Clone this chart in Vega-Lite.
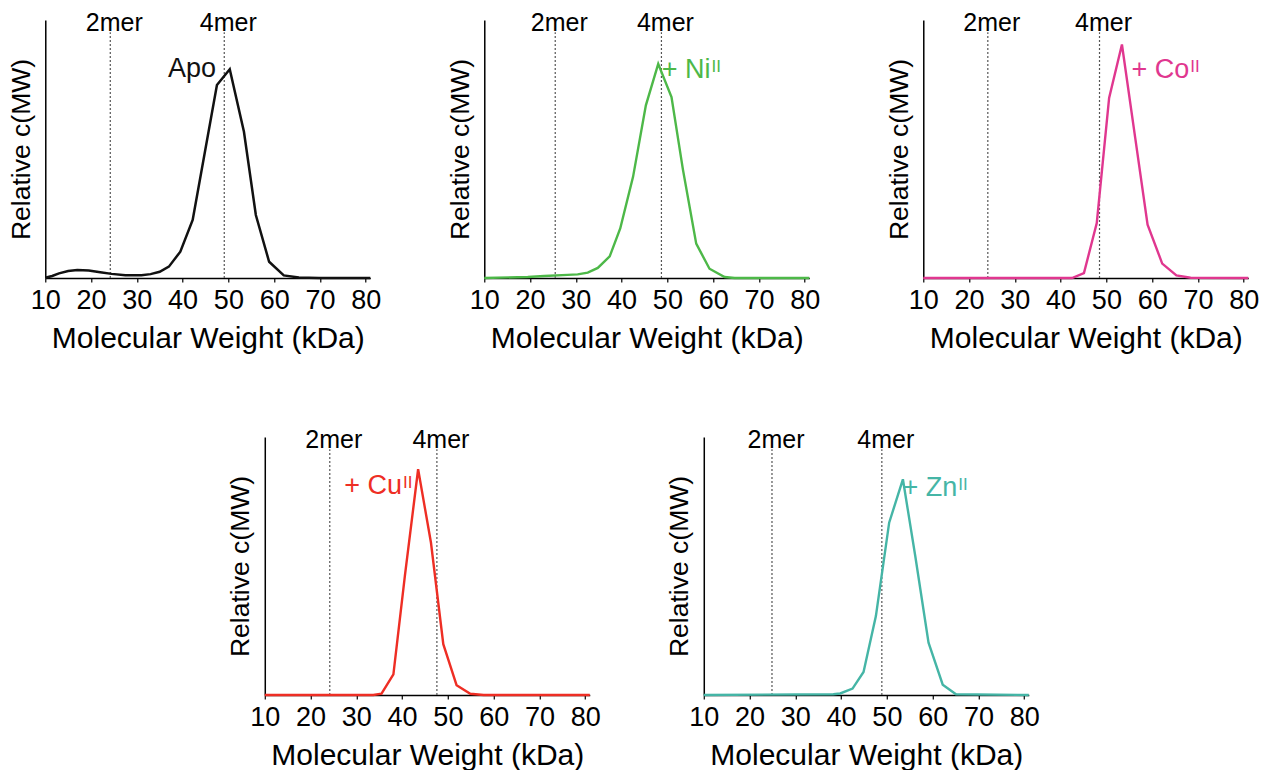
{
  "$schema": "https://vega.github.io/schema/vega-lite/v6.json",
  "padding": {"left": 8, "top": 10, "right": 4, "bottom": 0},
  "background": "white",
  "config": {
    "view": {"stroke": null},
    "font": "Liberation Sans",
    "axis": {"grid": false, "domainColor": "black", "domainWidth": 1.5, "titleFontWeight": "normal", "titleColor": "black", "labelColor": "black", "titleFont": "Liberation Sans", "labelFont": "Liberation Sans"},
    "axisX": {"tickSize": 4, "tickColor": "black", "tickWidth": 1.2, "labelFontSize": 27, "labelPadding": 5, "titleFontSize": 30, "titlePadding": 10, "labelFlush": false, "labelOverlap": false},
    "axisY": {"labels": false, "ticks": false, "titleFontSize": 26.5, "titlePadding": 10},
    "text": {"font": "Liberation Sans"}
  },
  "datasets": {
    "curves": [
      {"panel": "Apo", "mw": 10.0, "c": 0.001},
      {"panel": "Apo", "mw": 11.5, "c": 0.008},
      {"panel": "Apo", "mw": 13.0, "c": 0.018},
      {"panel": "Apo", "mw": 15.0, "c": 0.027},
      {"panel": "Apo", "mw": 17.0, "c": 0.031},
      {"panel": "Apo", "mw": 19.5, "c": 0.029},
      {"panel": "Apo", "mw": 22.0, "c": 0.022},
      {"panel": "Apo", "mw": 24.5, "c": 0.016},
      {"panel": "Apo", "mw": 27.5, "c": 0.011},
      {"panel": "Apo", "mw": 31.0, "c": 0.011},
      {"panel": "Apo", "mw": 33.0, "c": 0.015},
      {"panel": "Apo", "mw": 35.0, "c": 0.024},
      {"panel": "Apo", "mw": 37.0, "c": 0.044},
      {"panel": "Apo", "mw": 39.5, "c": 0.102},
      {"panel": "Apo", "mw": 42.2, "c": 0.225},
      {"panel": "Apo", "mw": 47.5, "c": 0.748},
      {"panel": "Apo", "mw": 50.3, "c": 0.809},
      {"panel": "Apo", "mw": 53.4, "c": 0.567},
      {"panel": "Apo", "mw": 56.0, "c": 0.244},
      {"panel": "Apo", "mw": 58.9, "c": 0.063},
      {"panel": "Apo", "mw": 62.1, "c": 0.010},
      {"panel": "Apo", "mw": 65.4, "c": 0.002},
      {"panel": "Apo", "mw": 69.8, "c": 0.0},
      {"panel": "Apo", "mw": 81.0, "c": 0.0},
      {"panel": "Ni", "mw": 10.0, "c": 0.0},
      {"panel": "Ni", "mw": 19.5, "c": 0.004},
      {"panel": "Ni", "mw": 23.1, "c": 0.008},
      {"panel": "Ni", "mw": 28.2, "c": 0.012},
      {"panel": "Ni", "mw": 30.4, "c": 0.014},
      {"panel": "Ni", "mw": 32.6, "c": 0.021},
      {"panel": "Ni", "mw": 34.8, "c": 0.039},
      {"panel": "Ni", "mw": 37.4, "c": 0.084},
      {"panel": "Ni", "mw": 39.7, "c": 0.192},
      {"panel": "Ni", "mw": 42.5, "c": 0.392},
      {"panel": "Ni", "mw": 45.3, "c": 0.669},
      {"panel": "Ni", "mw": 48.0, "c": 0.830},
      {"panel": "Ni", "mw": 50.9, "c": 0.701},
      {"panel": "Ni", "mw": 53.4, "c": 0.420},
      {"panel": "Ni", "mw": 56.3, "c": 0.133},
      {"panel": "Ni", "mw": 59.2, "c": 0.036},
      {"panel": "Ni", "mw": 62.5, "c": 0.004},
      {"panel": "Ni", "mw": 64.7, "c": 0.0},
      {"panel": "Ni", "mw": 81.0, "c": 0.0},
      {"panel": "Co", "mw": 10.0, "c": 0.0},
      {"panel": "Co", "mw": 42.5, "c": 0.0},
      {"panel": "Co", "mw": 45.1, "c": 0.019},
      {"panel": "Co", "mw": 47.9, "c": 0.213},
      {"panel": "Co", "mw": 50.6, "c": 0.698},
      {"panel": "Co", "mw": 53.4, "c": 0.905},
      {"panel": "Co", "mw": 56.3, "c": 0.543},
      {"panel": "Co", "mw": 59.0, "c": 0.207},
      {"panel": "Co", "mw": 62.2, "c": 0.056},
      {"panel": "Co", "mw": 65.3, "c": 0.010},
      {"panel": "Co", "mw": 68.4, "c": 0.001},
      {"panel": "Co", "mw": 81.0, "c": 0.0},
      {"panel": "Cu", "mw": 10.0, "c": 0.0},
      {"panel": "Cu", "mw": 33.7, "c": 0.0},
      {"panel": "Cu", "mw": 35.5, "c": 0.005},
      {"panel": "Cu", "mw": 38.1, "c": 0.080},
      {"panel": "Cu", "mw": 40.6, "c": 0.461},
      {"panel": "Cu", "mw": 43.5, "c": 0.875},
      {"panel": "Cu", "mw": 46.3, "c": 0.591},
      {"panel": "Cu", "mw": 49.0, "c": 0.197},
      {"panel": "Cu", "mw": 51.9, "c": 0.038},
      {"panel": "Cu", "mw": 54.9, "c": 0.005},
      {"panel": "Cu", "mw": 57.8, "c": 0.0},
      {"panel": "Cu", "mw": 81.0, "c": 0.0},
      {"panel": "Zn", "mw": 10.0, "c": 0.0},
      {"panel": "Zn", "mw": 38.3, "c": 0.003},
      {"panel": "Zn", "mw": 39.8, "c": 0.006},
      {"panel": "Zn", "mw": 42.5, "c": 0.025},
      {"panel": "Zn", "mw": 44.9, "c": 0.089},
      {"panel": "Zn", "mw": 47.6, "c": 0.306},
      {"panel": "Zn", "mw": 50.5, "c": 0.668},
      {"panel": "Zn", "mw": 53.5, "c": 0.836},
      {"panel": "Zn", "mw": 56.2, "c": 0.539},
      {"panel": "Zn", "mw": 59.1, "c": 0.203},
      {"panel": "Zn", "mw": 62.2, "c": 0.040},
      {"panel": "Zn", "mw": 65.1, "c": 0.003},
      {"panel": "Zn", "mw": 81.0, "c": 0.0}
    ],
    "markers": [
      {"panel": "Apo", "mw": 24.2, "label": "2mer"},
      {"panel": "Apo", "mw": 49.1, "label": "4mer"},
      {"panel": "Ni", "mw": 25.5, "label": "2mer"},
      {"panel": "Ni", "mw": 48.7, "label": "4mer"},
      {"panel": "Co", "mw": 24.1, "label": "2mer"},
      {"panel": "Co", "mw": 48.5, "label": "4mer"},
      {"panel": "Cu", "mw": 24.2, "label": "2mer"},
      {"panel": "Cu", "mw": 47.6, "label": "4mer"},
      {"panel": "Zn", "mw": 24.9, "label": "2mer"},
      {"panel": "Zn", "mw": 48.9, "label": "4mer"}
    ],
    "labels": [
      {"panel": "Apo", "mw": 47.3, "c": 0.81, "text": "Apo", "sup": ""},
      {"panel": "Ni", "mw": 59.4, "c": 0.805, "text": "+ Ni", "sup": "II"},
      {"panel": "Co", "mw": 68.1, "c": 0.808, "text": "+ Co", "sup": "II"},
      {"panel": "Cu", "mw": 40.0, "c": 0.81, "text": "+ Cu", "sup": "II"},
      {"panel": "Zn", "mw": 65.4, "c": 0.804, "text": "+ Zn", "sup": "II"}
    ]
  },
  "vconcat": [
    {
      "hconcat": [
        {
          "width": 325, "height": 258,
          "encoding": {"x": {"field": "mw", "type": "quantitative", "title": "Molecular Weight (kDa)", "scale": {"domain": [10, 81], "nice": false, "zero": false}, "axis": {"values": [10, 20, 30, 40, 50, 60, 70, 80]}}},
          "layer": [
            {"data": {"name": "markers"}, "transform": [{"filter": "datum.panel === 'Apo'"}],
             "mark": {"type": "rule", "color": "#555555", "strokeWidth": 1.2, "strokeDash": [2, 2]},
             "encoding": {"y": {"datum": 0, "type": "quantitative", "title": "Relative c(MW)", "scale": {"domain": [0, 1], "nice": false}}, "y2": {"datum": 0.953}}},
            {"data": {"name": "markers"}, "transform": [{"filter": "datum.panel === 'Apo'"}],
             "mark": {"type": "text", "dx": 4, "fontSize": 25, "baseline": "middle", "align": "center", "color": "black"},
             "encoding": {"y": {"datum": 0.99, "type": "quantitative", "title": "Relative c(MW)", "scale": {"domain": [0, 1], "nice": false}}, "text": {"field": "label"}}},
            {"data": {"name": "curves"}, "transform": [{"filter": "datum.panel === 'Apo'"}],
             "mark": {"type": "line", "color": "#111111", "strokeWidth": 2.5},
             "encoding": {"y": {"field": "c", "type": "quantitative", "title": "Relative c(MW)", "scale": {"domain": [0, 1], "nice": false}}}},
            {"data": {"name": "labels"}, "transform": [{"filter": "datum.panel === 'Apo'"}],
             "mark": {"type": "text", "align": "right", "baseline": "middle", "fontSize": 27, "color": "#111111"},
             "encoding": {"y": {"field": "c", "type": "quantitative", "title": "Relative c(MW)", "scale": {"domain": [0, 1], "nice": false}}, "text": {"field": "text"}}}
          ]
        },
        {
          "width": 325, "height": 258,
          "encoding": {"x": {"field": "mw", "type": "quantitative", "title": "Molecular Weight (kDa)", "scale": {"domain": [10, 81], "nice": false, "zero": false}, "axis": {"values": [10, 20, 30, 40, 50, 60, 70, 80]}}},
          "layer": [
            {"data": {"name": "markers"}, "transform": [{"filter": "datum.panel === 'Ni'"}],
             "mark": {"type": "rule", "color": "#555555", "strokeWidth": 1.2, "strokeDash": [2, 2]},
             "encoding": {"y": {"datum": 0, "type": "quantitative", "title": "Relative c(MW)", "scale": {"domain": [0, 1], "nice": false}}, "y2": {"datum": 0.953}}},
            {"data": {"name": "markers"}, "transform": [{"filter": "datum.panel === 'Ni'"}],
             "mark": {"type": "text", "dx": 4, "fontSize": 25, "baseline": "middle", "align": "center", "color": "black"},
             "encoding": {"y": {"datum": 0.99, "type": "quantitative", "title": "Relative c(MW)", "scale": {"domain": [0, 1], "nice": false}}, "text": {"field": "label"}}},
            {"data": {"name": "curves"}, "transform": [{"filter": "datum.panel === 'Ni'"}],
             "mark": {"type": "line", "color": "#4db848", "strokeWidth": 2.4},
             "encoding": {"y": {"field": "c", "type": "quantitative", "title": "Relative c(MW)", "scale": {"domain": [0, 1], "nice": false}}}},
            {"data": {"name": "labels"}, "transform": [{"filter": "datum.panel === 'Ni'"}],
             "mark": {"type": "text", "align": "right", "baseline": "middle", "fontSize": 27, "color": "#4db848"},
             "encoding": {"y": {"field": "c", "type": "quantitative", "title": "Relative c(MW)", "scale": {"domain": [0, 1], "nice": false}}, "text": {"field": "text"}}},
            {"data": {"name": "labels"}, "transform": [{"filter": "datum.panel === 'Ni'"}],
             "mark": {"type": "text", "align": "left", "baseline": "middle", "fontSize": 17, "dy": -3, "dx": 1, "color": "#4db848"},
             "encoding": {"y": {"field": "c", "type": "quantitative", "title": "Relative c(MW)", "scale": {"domain": [0, 1], "nice": false}}, "text": {"field": "sup"}}}
          ]
        },
        {
          "width": 325, "height": 258,
          "encoding": {"x": {"field": "mw", "type": "quantitative", "title": "Molecular Weight (kDa)", "scale": {"domain": [10, 81], "nice": false, "zero": false}, "axis": {"values": [10, 20, 30, 40, 50, 60, 70, 80]}}},
          "layer": [
            {"data": {"name": "markers"}, "transform": [{"filter": "datum.panel === 'Co'"}],
             "mark": {"type": "rule", "color": "#555555", "strokeWidth": 1.2, "strokeDash": [2, 2]},
             "encoding": {"y": {"datum": 0, "type": "quantitative", "title": "Relative c(MW)", "scale": {"domain": [0, 1], "nice": false}}, "y2": {"datum": 0.953}}},
            {"data": {"name": "markers"}, "transform": [{"filter": "datum.panel === 'Co'"}],
             "mark": {"type": "text", "dx": 4, "fontSize": 25, "baseline": "middle", "align": "center", "color": "black"},
             "encoding": {"y": {"datum": 0.99, "type": "quantitative", "title": "Relative c(MW)", "scale": {"domain": [0, 1], "nice": false}}, "text": {"field": "label"}}},
            {"data": {"name": "curves"}, "transform": [{"filter": "datum.panel === 'Co'"}],
             "mark": {"type": "line", "color": "#e0378f", "strokeWidth": 2.4},
             "encoding": {"y": {"field": "c", "type": "quantitative", "title": "Relative c(MW)", "scale": {"domain": [0, 1], "nice": false}}}},
            {"data": {"name": "labels"}, "transform": [{"filter": "datum.panel === 'Co'"}],
             "mark": {"type": "text", "align": "right", "baseline": "middle", "fontSize": 27, "color": "#e0378f"},
             "encoding": {"y": {"field": "c", "type": "quantitative", "title": "Relative c(MW)", "scale": {"domain": [0, 1], "nice": false}}, "text": {"field": "text"}}},
            {"data": {"name": "labels"}, "transform": [{"filter": "datum.panel === 'Co'"}],
             "mark": {"type": "text", "align": "left", "baseline": "middle", "fontSize": 17, "dy": -3, "dx": 1, "color": "#e0378f"},
             "encoding": {"y": {"field": "c", "type": "quantitative", "title": "Relative c(MW)", "scale": {"domain": [0, 1], "nice": false}}, "text": {"field": "sup"}}}
          ]
        }
      ],
      "spacing": 66
    },
    {
      "hconcat": [
        {
          "width": 325, "height": 258,
          "encoding": {"x": {"field": "mw", "type": "quantitative", "title": "Molecular Weight (kDa)", "scale": {"domain": [10, 81], "nice": false, "zero": false}, "axis": {"values": [10, 20, 30, 40, 50, 60, 70, 80]}}},
          "layer": [
            {"data": {"name": "markers"}, "transform": [{"filter": "datum.panel === 'Cu'"}],
             "mark": {"type": "rule", "color": "#555555", "strokeWidth": 1.2, "strokeDash": [2, 2]},
             "encoding": {"y": {"datum": 0, "type": "quantitative", "title": "Relative c(MW)", "scale": {"domain": [0, 1], "nice": false}}, "y2": {"datum": 0.953}}},
            {"data": {"name": "markers"}, "transform": [{"filter": "datum.panel === 'Cu'"}],
             "mark": {"type": "text", "dx": 4, "fontSize": 25, "baseline": "middle", "align": "center", "color": "black"},
             "encoding": {"y": {"datum": 0.99, "type": "quantitative", "title": "Relative c(MW)", "scale": {"domain": [0, 1], "nice": false}}, "text": {"field": "label"}}},
            {"data": {"name": "curves"}, "transform": [{"filter": "datum.panel === 'Cu'"}],
             "mark": {"type": "line", "color": "#ee2e24", "strokeWidth": 2.4},
             "encoding": {"y": {"field": "c", "type": "quantitative", "title": "Relative c(MW)", "scale": {"domain": [0, 1], "nice": false}}}},
            {"data": {"name": "labels"}, "transform": [{"filter": "datum.panel === 'Cu'"}],
             "mark": {"type": "text", "align": "right", "baseline": "middle", "fontSize": 27, "color": "#ee2e24"},
             "encoding": {"y": {"field": "c", "type": "quantitative", "title": "Relative c(MW)", "scale": {"domain": [0, 1], "nice": false}}, "text": {"field": "text"}}},
            {"data": {"name": "labels"}, "transform": [{"filter": "datum.panel === 'Cu'"}],
             "mark": {"type": "text", "align": "left", "baseline": "middle", "fontSize": 17, "dy": -3, "dx": 1, "color": "#ee2e24"},
             "encoding": {"y": {"field": "c", "type": "quantitative", "title": "Relative c(MW)", "scale": {"domain": [0, 1], "nice": false}}, "text": {"field": "sup"}}}
          ]
        },
        {
          "width": 325, "height": 258,
          "encoding": {"x": {"field": "mw", "type": "quantitative", "title": "Molecular Weight (kDa)", "scale": {"domain": [10, 81], "nice": false, "zero": false}, "axis": {"values": [10, 20, 30, 40, 50, 60, 70, 80]}}},
          "layer": [
            {"data": {"name": "markers"}, "transform": [{"filter": "datum.panel === 'Zn'"}],
             "mark": {"type": "rule", "color": "#555555", "strokeWidth": 1.2, "strokeDash": [2, 2]},
             "encoding": {"y": {"datum": 0, "type": "quantitative", "title": "Relative c(MW)", "scale": {"domain": [0, 1], "nice": false}}, "y2": {"datum": 0.953}}},
            {"data": {"name": "markers"}, "transform": [{"filter": "datum.panel === 'Zn'"}],
             "mark": {"type": "text", "dx": 4, "fontSize": 25, "baseline": "middle", "align": "center", "color": "black"},
             "encoding": {"y": {"datum": 0.99, "type": "quantitative", "title": "Relative c(MW)", "scale": {"domain": [0, 1], "nice": false}}, "text": {"field": "label"}}},
            {"data": {"name": "curves"}, "transform": [{"filter": "datum.panel === 'Zn'"}],
             "mark": {"type": "line", "color": "#45b5a6", "strokeWidth": 2.4},
             "encoding": {"y": {"field": "c", "type": "quantitative", "title": "Relative c(MW)", "scale": {"domain": [0, 1], "nice": false}}}},
            {"data": {"name": "labels"}, "transform": [{"filter": "datum.panel === 'Zn'"}],
             "mark": {"type": "text", "align": "right", "baseline": "middle", "fontSize": 27, "color": "#45b5a6"},
             "encoding": {"y": {"field": "c", "type": "quantitative", "title": "Relative c(MW)", "scale": {"domain": [0, 1], "nice": false}}, "text": {"field": "text"}}},
            {"data": {"name": "labels"}, "transform": [{"filter": "datum.panel === 'Zn'"}],
             "mark": {"type": "text", "align": "left", "baseline": "middle", "fontSize": 17, "dy": -3, "dx": 1, "color": "#45b5a6"},
             "encoding": {"y": {"field": "c", "type": "quantitative", "title": "Relative c(MW)", "scale": {"domain": [0, 1], "nice": false}}, "text": {"field": "sup"}}}
          ]
        }
      ],
      "spacing": 66
    }
  ],
  "spacing": 74,
  "center": true
}
